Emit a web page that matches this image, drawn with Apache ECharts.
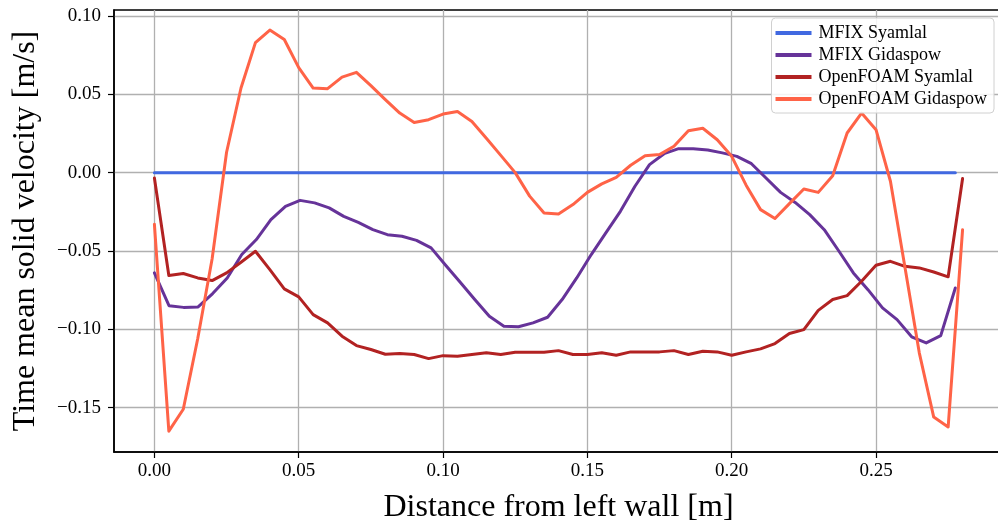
<!DOCTYPE html>
<html>
<head>
<meta charset="utf-8">
<script src="https://cdn.jsdelivr.net/npm/echarts@6/dist/echarts.min.js"></script>
<style>
html,body{margin:0;padding:0;background:#fff;}
#chart{width:998px;height:522px;}
</style>
</head>
<body>
<div id="chart"></div>
<script>
// ---- data ----
const seriesNames = ['MFIX Syamlal', 'MFIX Gidaspow', 'OpenFOAM Syamlal', 'OpenFOAM Gidaspow'];

const mfixX = [0, 0.00505, 0.01009, 0.01514, 0.02018, 0.02523, 0.03027, 0.03532, 0.04036, 0.04541,
  0.05045, 0.0555, 0.06054, 0.06559, 0.07063, 0.07568, 0.08072, 0.08577, 0.09081, 0.09586,
  0.1009, 0.10595, 0.11099, 0.11604, 0.12108, 0.12613, 0.13117, 0.13622, 0.14126, 0.14631,
  0.15135, 0.1564, 0.16144, 0.16649, 0.17153, 0.17658, 0.18162, 0.18667, 0.19171, 0.19676,
  0.2018, 0.20685, 0.21189, 0.21694, 0.22198, 0.22703, 0.23207, 0.23712, 0.24216, 0.24721,
  0.25225, 0.2573, 0.26234, 0.26739, 0.27243, 0.27748];

const mfixSyamlal = [0, 0, 0, 0, 0, 0, 0, 0, 0, 0,
  0, 0, 0, 0, 0, 0, 0, 0, 0, 0,
  0, 0, 0, 0, 0, 0, 0, 0, 0, 0,
  0, 0, 0, 0, 0, 0, 0, 0, 0, 0,
  0, 0, 0, 0, 0, 0, 0, 0, 0, 0,
  0, 0, 0, 0, 0, 0];

const mfixGidaspow = [-0.064, -0.0849, -0.086, -0.0857, -0.0772, -0.0672, -0.0523, -0.0427, -0.030, -0.0215,
  -0.0177, -0.0193, -0.0225, -0.0279, -0.0317, -0.0364, -0.0396, -0.0406, -0.0432, -0.048,
  -0.0591, -0.070, -0.081, -0.0917, -0.098, -0.0984, -0.0959, -0.0923, -0.081, -0.0672,
  -0.0523, -0.0385, -0.0247, -0.0087, 0.0051, 0.0121, 0.0153, 0.0153, 0.0144, 0.0126,
  0.0104, 0.0057, -0.0034, -0.0126, -0.019, -0.0268, -0.0364, -0.050, -0.064, -0.0747,
  -0.0863, -0.0938, -0.1048, -0.1087, -0.104, -0.0736];

const ofX = [0, 0.005, 0.01, 0.015, 0.02, 0.025, 0.03, 0.035, 0.04, 0.045,
  0.05, 0.055, 0.06, 0.065, 0.07, 0.075, 0.08, 0.085, 0.09, 0.095,
  0.1, 0.105, 0.11, 0.115, 0.12, 0.125, 0.13, 0.135, 0.14, 0.145,
  0.15, 0.155, 0.16, 0.165, 0.17, 0.175, 0.18, 0.185, 0.19, 0.195,
  0.2, 0.205, 0.21, 0.215, 0.22, 0.225, 0.23, 0.235, 0.24, 0.245,
  0.25, 0.255, 0.26, 0.265, 0.27, 0.275, 0.28];

const ofSyamlal = [-0.0034, -0.0657, -0.0644, -0.0672, -0.0689, -0.064, -0.0572, -0.0502, -0.0619, -0.0742,
  -0.0793, -0.0906, -0.0959, -0.1044, -0.1104, -0.1129, -0.1159, -0.1155, -0.1161, -0.1187,
  -0.1168, -0.1172, -0.1161, -0.115, -0.1161, -0.1147, -0.1147, -0.1147, -0.1136, -0.1161,
  -0.116, -0.115, -0.1166, -0.1144, -0.1144, -0.1144, -0.1136, -0.1161, -0.114, -0.1144,
  -0.1166, -0.1144, -0.1125, -0.1091, -0.1027, -0.1002, -0.0879, -0.081, -0.0785, -0.0693,
  -0.0591, -0.0566, -0.0598, -0.0608, -0.0634, -0.0665, -0.0038];

const ofGidaspow = [-0.033, -0.165, -0.151, -0.106, -0.055, 0.013, 0.054, 0.083, 0.091, 0.085,
  0.067, 0.054, 0.0536, 0.061, 0.064, 0.0555, 0.0466, 0.038, 0.032, 0.0338,
  0.0374, 0.039, 0.0327, 0.022, 0.011, 0.000, -0.015, -0.0257, -0.0264, -0.0204,
  -0.0126, -0.0072, -0.003, 0.0047, 0.0108, 0.0115, 0.0168, 0.0268, 0.0283, 0.021,
  0.0104, -0.008, -0.0236, -0.0293, -0.0198, -0.0104, -0.0126, -0.002, 0.0253, 0.038,
  0.0274, -0.0055, -0.06, -0.115, -0.156, -0.1623, -0.0364];

const xTicks = [0, 0.05, 0.1, 0.15, 0.2, 0.25];
const yTicks = [-0.15, -0.1, -0.05, 0, 0.05, 0.1];

const colors = ['#4169E1', '#663399', '#B22222', '#FF6347'];

// ---- chart ----
const zip = (xs, ys) => xs.map((x, i) => [x, ys[i]]);
const FONT = 'Liberation Serif';
const fmt = v => {
  const s = Math.abs(v).toFixed(2);
  return (v < -1e-9 ? '\u2212' : '') + s;
};

const chart = echarts.init(document.getElementById('chart'), null, {renderer: 'canvas'});
const lineSeries = (name, data, color) => ({
  name, type: 'line', data, showSymbol: false, symbol: 'none',
  lineStyle: {color, width: 3, cap: 'round', join: 'round'},
  itemStyle: {color}, animation: false
});

chart.setOption({
  animation: false,
  backgroundColor: '#fff',
  grid: {
    left: 114, top: 10, right: -5, bottom: 70,
    outerBoundsMode: 'none', containLabel: false,
    show: true, borderColor: '#000', borderWidth: 1.5, backgroundColor: 'transparent'
  },
  legend: {
    orient: 'vertical', right: 4, top: 18,
    data: seriesNames,
    icon: 'rect', itemWidth: 36, itemHeight: 4, itemGap: 4,
    padding: [6, 7, 5, 4],
    backgroundColor: 'rgba(255,255,255,0.85)',
    borderColor: '#d0d0d0', borderWidth: 1, borderRadius: 4,
    textStyle: {fontFamily: FONT, fontSize: 18, color: '#000', lineHeight: 18, padding: [0, 0, 0, 2]}
  },
  xAxis: {
    type: 'value', min: -0.014, max: 0.294,
    name: 'Distance from left wall [m]', nameLocation: 'middle', nameGap: 40,
    nameTextStyle: {fontFamily: FONT, fontSize: 32, color: '#000'},
    axisLine: {show: true, onZero: false, lineStyle: {color: '#000', width: 1.5}},
    axisTick: {show: true, length: 6, lineStyle: {color: '#000', width: 1.2}, customValues: xTicks},
    axisLabel: {fontFamily: FONT, fontSize: 19, color: '#000', margin: 10, customValues: xTicks, formatter: fmt},
    splitLine: {show: true, lineStyle: {color: '#b0b0b0', width: 1.3}}
  },
  yAxis: {
    type: 'value', min: -0.1783, max: 0.1038,
    name: 'Time mean solid velocity [m/s]', nameLocation: 'middle', nameGap: 72,
    nameTextStyle: {fontFamily: FONT, fontSize: 32, color: '#000'},
    axisLine: {show: true, onZero: false, lineStyle: {color: '#000', width: 1.5}},
    axisTick: {show: true, length: 6, lineStyle: {color: '#000', width: 1.2}, customValues: yTicks},
    axisLabel: {fontFamily: FONT, fontSize: 19, color: '#000', margin: 13, customValues: yTicks, formatter: fmt},
    splitLine: {show: true, lineStyle: {color: '#b0b0b0', width: 1.3}}
  },
  series: [
    lineSeries(seriesNames[0], zip(mfixX, mfixSyamlal), colors[0]),
    lineSeries(seriesNames[1], zip(mfixX, mfixGidaspow), colors[1]),
    lineSeries(seriesNames[2], zip(ofX, ofSyamlal), colors[2]),
    lineSeries(seriesNames[3], zip(ofX, ofGidaspow), colors[3])
  ]
});
</script>
</body>
</html>
